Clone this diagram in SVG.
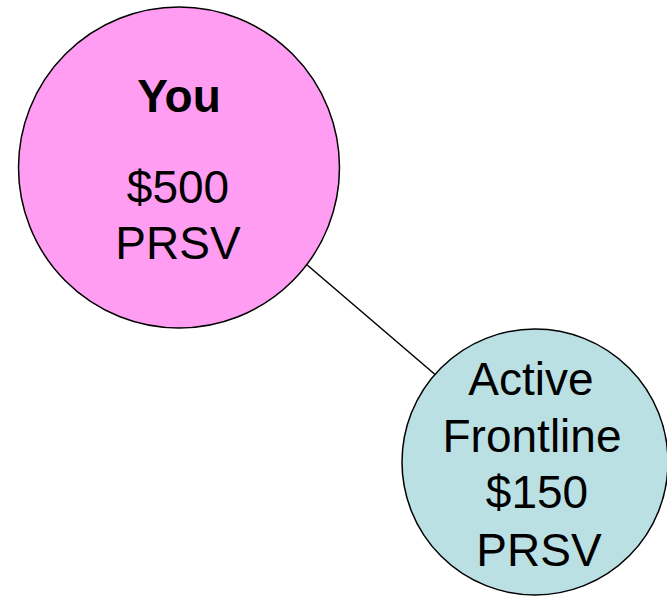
<svg xmlns="http://www.w3.org/2000/svg" width="667" height="598" viewBox="0 0 667 598">
  <style>
    .node { stroke: #000; stroke-width: 1.5; }
    .label { font-family: "Liberation Sans", Arial, sans-serif; font-size: 46px; fill: #000; text-anchor: middle; }
    .bold { font-weight: bold; }
    .edge { stroke: #000; stroke-width: 1.5; fill: none; }
  </style>
  <rect width="667" height="598" fill="#fff"/>
  <g id="connectors">
    <line class="edge" x1="306" y1="264" x2="438" y2="377"/>
  </g>
  <g id="you">
    <circle class="node" cx="179" cy="167.5" r="160.5" fill="#FF9DF2"/>
    <text class="label bold" x="179" y="112">You</text>
    <text class="label" x="178" y="203">$500</text>
    <text class="label" x="178" y="259">PRSV</text>
  </g>
  <g id="active-frontline">
    <circle class="node" cx="535" cy="462" r="133" fill="#BBE0E3"/>
    <text class="label" x="531" y="395">Active</text>
    <text class="label" x="532" y="452">Frontline</text>
    <text class="label" x="537" y="508">$150</text>
    <text class="label" x="539" y="566">PRSV</text>
  </g>
</svg>
